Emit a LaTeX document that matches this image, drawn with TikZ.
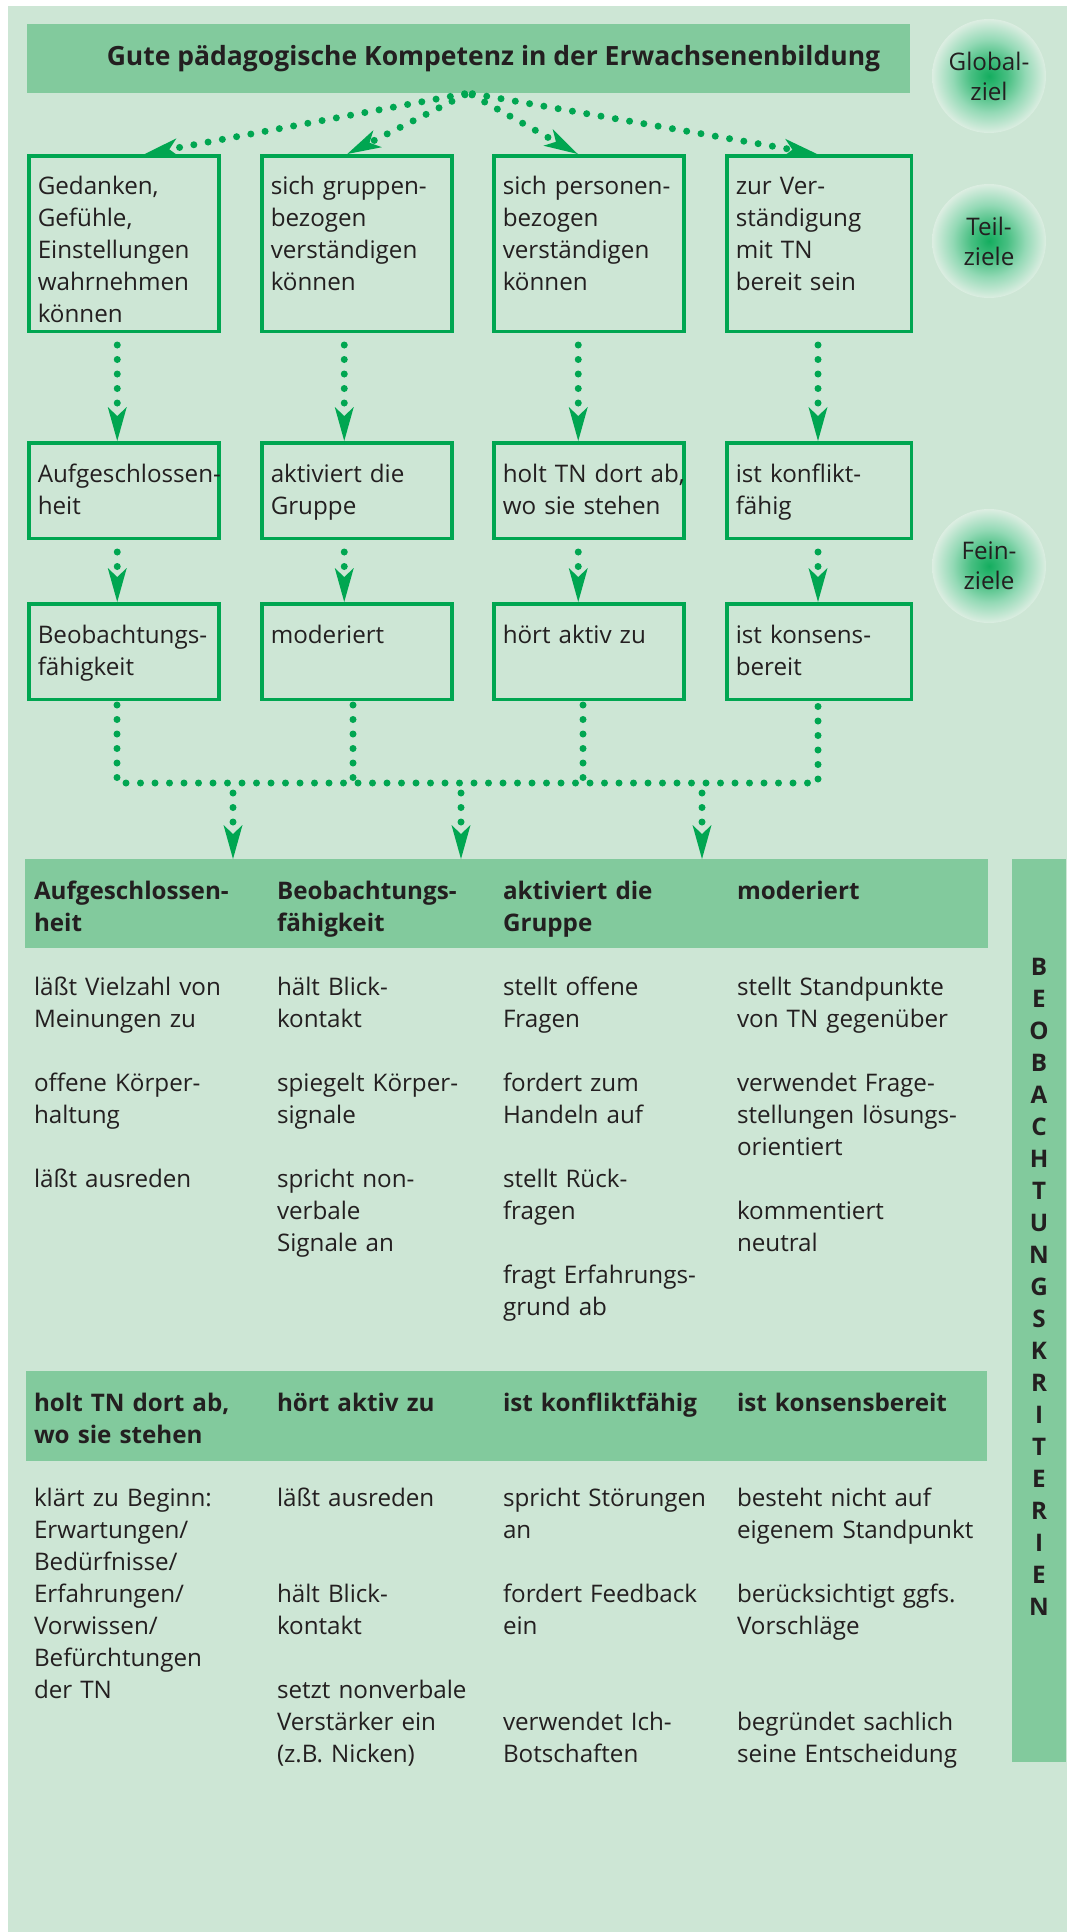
\documentclass[tikz,border=0pt]{standalone}
\usepackage{fontspec}
\setmainfont{Open Sans}
\usetikzlibrary{arrows.meta}

\definecolor{paleGreen}{RGB}{205,230,213}
\definecolor{midGreen}{RGB}{130,202,157}
\definecolor{deepGreen}{RGB}{0,166,81}
\definecolor{inkGrey}{RGB}{35,31,32}

\newcommand{\bodyfont}{\fontsize{24.2}{32}\selectfont}

\pgfdeclareradialshading{glow}{\pgfpoint{0bp}{0bp}}{color(0bp)=(deepGreen!92!white); color(8bp)=(deepGreen!72!white); color(16bp)=(deepGreen!42!white); color(25bp)=(paleGreen!70!white); color(34bp)=(white!80!paleGreen); color(50bp)=(white!88!paleGreen)}

\begin{document}
\begin{tikzpicture}[x=1pt, y=-1pt, >={Stealth[length=34pt, width=19pt, inset=9pt, line width=0pt]}]

\tikzstyle{every node}=[text=inkGrey, font=\bodyfont, inner sep=0pt, outer sep=0pt]
\tikzstyle{aim}=[draw=deepGreen, line width=3.5pt, outer sep=1.75pt, anchor=north west, inner xsep=9pt, text width=172pt, align=left, execute at begin node={\exhyphenpenalty=10000}]
\tikzstyle{teil}=[aim, text height=38.5pt, text depth=137pt]
\tikzstyle{fein}=[aim, text height=39.5pt, text depth=56pt]
\tikzstyle{headbar}=[fill=midGreen, anchor=north west]
\tikzstyle{goal}=[circle, minimum size=114pt, shading=glow, text width=90pt, align=center, font=\fontsize{24.2}{30}\selectfont]
\tikzstyle{item}=[anchor=base west, text width=265pt, align=left]
\tikzstyle{itemhead}=[item, font=\bodyfont\bfseries]
\tikzstyle{flow}=[deepGreen, line width=7pt, line cap=round, dash pattern=on 0pt off 14.5pt]

\useasboundingbox (0,0) rectangle (1071,1932);
\fill[paleGreen] (8,6) rectangle (1067,1932);

% goals
\draw (27,24) node[headbar, minimum width=883pt, minimum height=69pt, font=\fontsize{26.5}{32}\selectfont\bfseries] (title)
        {\hspace*{50pt}Gute pädagogische Kompetenz in der Erwachsenenbildung};
\draw (989,76)  node[goal] (gziel) {Global-\\ziel}
      (989,241) node[goal] (tziel) {Teil-\\ziele}
      (989,566) node[goal] (fziel) {Fein-\\ziele};

\draw (27,154)  node[teil] (t1) {Gedanken,\\Gefühle,\\Einstellungen\\wahrnehmen\\können}
      (260,154) node[teil] (t2) {sich~gruppen-\\bezogen\\verständigen\\können}
      (492,154) node[teil] (t3) {sich~personen-\\bezogen\\verständigen\\können}
      (725,154) node[teil, text width=166.5pt] (t4) {zur~Ver-\\ständigung\\mit~TN\\bereit~sein};

\draw (27,441)  node[fein] (a1) {Aufgeschlossen-\\heit}
      (260,441) node[fein] (a2) {aktiviert~die\\Gruppe}
      (492,441) node[fein] (a3) {holt~TN~dort~ab,\\wo~sie~stehen}
      (725,441) node[fein, text width=166.5pt] (a4) {ist~konflikt-\\fähig};

\draw (27,602)  node[fein] (f1) {Beobachtungs-\\fähigkeit}
      (260,602) node[fein] (f2) {moderiert}
      (492,602) node[fein] (f3) {hört~aktiv~zu}
      (725,602) node[fein, text width=166.5pt] (f4) {ist~konsens-\\bereit};

% criteria
\draw (25,859)   node[headbar, minimum width=963pt, minimum height=89pt] (hdrA) {}
      (26,1371)  node[headbar, minimum width=961pt, minimum height=90pt] (hdrB) {}
      (1012,859) node[headbar, minimum width=54pt, minimum height=903pt] (critbar) {};
\foreach \ch [count=\i] in {B,E,O,B,A,C,H,T,U,N,G,S,K,R,I,T,E,R,I,E,N}
  \node[anchor=base, font=\bodyfont\bfseries] (crit\i) at (1039,943+32*\i) {\ch};

\draw (34,899)  node[itemhead] (hA1) {Aufgeschlossen-\\heit}
      (277,899) node[itemhead] (hA2) {Beobachtungs-\\fähigkeit}
      (503,899) node[itemhead] (hA3) {aktiviert die\\Gruppe}
      (737,899) node[itemhead] (hA4) {moderiert};
\draw (34,995)  node[item] (kA1) {läßt Vielzahl von\\Meinungen zu\\[32pt]offene Körper-\\haltung\\[32pt]läßt ausreden}
      (277,995) node[item] (kA2) {hält Blick-\\kontakt\\[32pt]spiegelt Körper-\\signale\\[32pt]spricht non-\\verbale\\Signale an}
      (503,995) node[item] (kA3) {stellt offene\\Fragen\\[32pt]fordert zum\\Handeln auf\\[32pt]stellt Rück-\\fragen\\[32pt]fragt Erfahrungs-\\grund ab}
      (737,995) node[item] (kA4) {stellt Standpunkte\\von TN gegenüber\\[32pt]verwendet Frage-\\stellungen lösungs-\\orientiert\\[32pt]kommentiert\\neutral};

\draw (34,1411)  node[itemhead] (hB1) {holt TN dort ab,\\wo sie stehen}
      (277,1411) node[itemhead] (hB2) {hört aktiv zu}
      (503,1411) node[itemhead] (hB3) {ist konfliktfähig}
      (737,1411) node[itemhead] (hB4) {ist konsensbereit};
\draw (34,1506)  node[item] (kB1) {klärt zu Beginn:\\Erwartungen/\\Bedürfnisse/\\Erfahrungen/\\Vorwissen/\\Befürchtungen\\der TN}
      (277,1506) node[item] (kB2) {läßt ausreden\\[64pt]hält Blick-\\kontakt\\[32pt]setzt nonverbale\\Verstärker ein\\(z.B. Nicken)}
      (503,1506) node[item] (kB3) {spricht Störungen\\an\\[32pt]fordert Feedback\\ein\\[64pt]verwendet Ich-\\Botschaften}
      (737,1506) node[item] (kB4) {besteht nicht auf\\eigenem Standpunkt\\[32pt]berücksichtigt ggfs.\\Vorschläge\\[64pt]begründet sachlich\\seine Entscheidung};

% dotted arrows
\draw[flow, ->, shorten <=4pt] (title.south) -- ([xshift=21pt]t1.north);
\draw[flow, ->, shorten <=4pt] (title.south) -- ([xshift=-9.5pt]t2.north);
\draw[flow, ->, shorten <=4pt] (title.south) -- ([xshift=-11pt]t3.north);
\draw[flow, ->, shorten <=4pt] (title.south) -- ([xshift=-2pt]t4.north);

\foreach \up/\dn/\dx in {t1/a1/-6.5pt, t2/a2/-12.5pt, t3/a3/-10.5pt, t4/a4/-1pt,
                         a1/f1/-6.5pt, a2/f2/-12.5pt, a3/f3/-10.5pt, a4/f4/-1pt}
  \draw[flow, ->, shorten <=12pt] ([xshift=\dx]\up.south) -- ([xshift=\dx]\dn.north);

\coordinate (bus) at (0,783);
\coordinate (d1) at (233,783);
\coordinate (d2) at (461,783);
\coordinate (d3) at (702,783);

\draw[flow, shorten <=4pt, shorten >=4pt] ([xshift=-6.75pt]f1.south) -- ([xshift=-6.75pt]f1.south |- bus)
  -- ([xshift=-1pt]f4.south |- bus) -- ([xshift=-1pt]f4.south);
\draw[flow, shorten <=4pt] ([xshift=-3.75pt]f2.south) -- ([xshift=-3.75pt]f2.south |- bus);
\draw[flow, shorten <=4pt] ([xshift=-5.75pt]f3.south) -- ([xshift=-5.75pt]f3.south |- bus);

\draw[flow, ->, shorten <=10pt] (d1) -- (d1 |- hdrA.north);
\draw[flow, ->, shorten <=10pt] (d2) -- (d2 |- hdrA.north);
\draw[flow, ->, shorten <=10pt] (d3) -- (d3 |- hdrA.north);

\end{tikzpicture}
\end{document}
